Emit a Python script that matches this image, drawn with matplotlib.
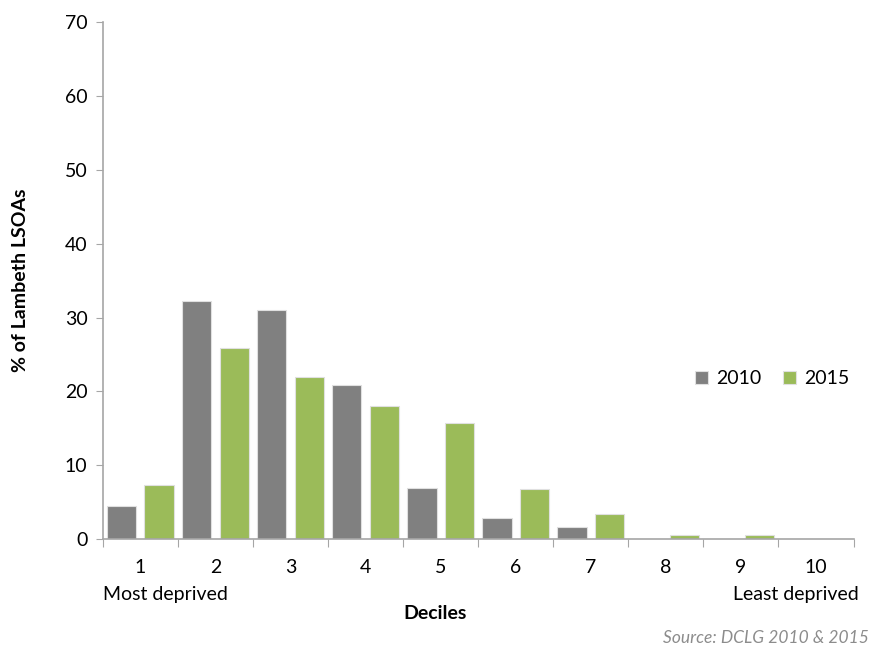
import numpy as np
import matplotlib.pyplot as plt

plt.rcParams['font.family'] = ['Lato', 'DejaVu Sans']

deciles = ['1', '2', '3', '4', '5', '6', '7', '8', '9', '10']
pct_2010 = [4.5, 32.3, 31.0, 20.9, 6.9, 2.9, 1.7, 0.0, 0.0, 0.0]
pct_2015 = [7.3, 25.9, 21.9, 18.0, 15.7, 6.8, 3.4, 0.6, 0.6, 0.0]

fig = plt.figure(figsize=(8.71, 6.48), dpi=100)
ax = fig.add_axes([0.118, 0.168, 0.862, 0.798])

x = np.arange(len(deciles))
w = 0.39
ax.bar(x - 0.25, pct_2010, w, color='#808080', edgecolor='#e0e0e0', linewidth=0.8, label='2010')
ax.bar(x + 0.25, pct_2015, w, color='#9bbb59', edgecolor='#e0e0e0', linewidth=0.8, label='2015')

ax.set_xlim(-0.5, len(deciles) - 0.5)
ax.set_ylim(0, 70)
ax.set_yticks(range(0, 71, 10))

# ticks sit between the groups, labels under the centres
ax.set_xticks(np.arange(-0.5, len(deciles)), minor=False)
ax.set_xticklabels([])
ax.set_xticks(x, minor=True)
ax.set_xticklabels(deciles, minor=True)
ax.tick_params(axis='x', which='minor', length=0, pad=14, labelsize=14)
ax.tick_params(axis='x', which='major', length=6, color='#a6a6a6', direction='out')
ax.tick_params(axis='y', length=5, color='#a6a6a6', direction='out', labelsize=14, pad=6)

for side in ['top', 'right']:
    ax.spines[side].set_visible(False)
for side in ['left', 'bottom']:
    ax.spines[side].set_color('#a6a6a6')
    ax.spines[side].set_linewidth(1.2)

ax.set_ylabel('% of Lambeth LSOAs', fontsize=14, fontweight='bold', labelpad=26)

fig.text(0.118, 0.082, 'Most deprived', fontsize=14, ha='left', va='center')
fig.text(0.986, 0.082, 'Least deprived', fontsize=14, ha='right', va='center')
fig.text(0.5, 0.053, 'Deciles', fontsize=14, fontweight='bold', ha='center', va='center')
fig.text(0.997, 0.015, 'Source: DCLG 2010 & 2015', fontsize=12.5, style='italic',
         color='#8c8c8c', ha='right', va='center')

ax.legend(loc='center left', bbox_to_anchor=(0.765, 0.31), ncol=2, frameon=False,
          fontsize=14, handlelength=0.7, handleheight=0.7, columnspacing=1.1, handletextpad=0.4)

fig.savefig('out.png', dpi=100)
